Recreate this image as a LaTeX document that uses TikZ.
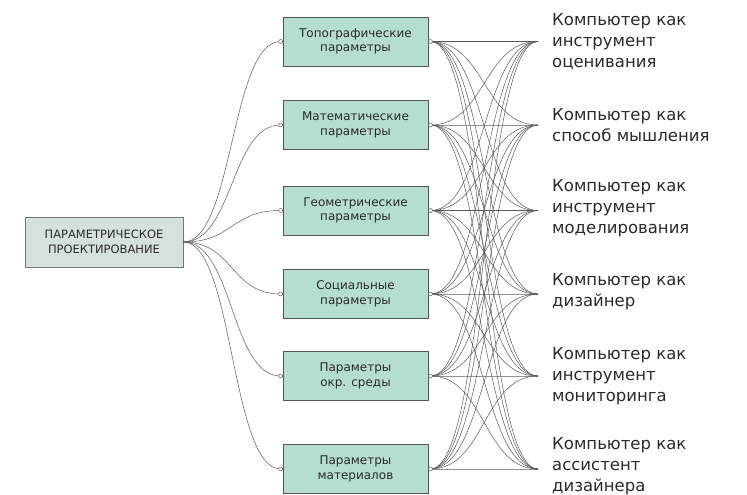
\documentclass[tikz,border=0pt]{standalone}
\usepackage{fontspec}
\setmainfont{DejaVu Sans}
\definecolor{midfill}{HTML}{B6DECF}
\definecolor{leftfill}{HTML}{D6E0DD}
\definecolor{edgegray}{HTML}{555555}
\definecolor{linegray}{HTML}{5A5A5A}
\definecolor{txt}{HTML}{2A2A2A}
\tikzset{
  midbox/.style={draw=edgegray, line width=0.8pt, fill=midfill, minimum width=145pt, minimum height=49pt, align=center, text=txt, font=\fontsize{12}{14.5}\selectfont, inner sep=0pt},
  leftbox/.style={draw=edgegray!80, line width=0.8pt, fill=leftfill, minimum width=158pt, minimum height=50pt, align=center, text=txt, font=\fontsize{11.5}{14.5}\selectfont, inner sep=0pt},
  outtext/.style={anchor=west, align=left, text=txt, font=\fontsize{16.5}{21}\selectfont, inner sep=0pt},
  conn/.style={draw=linegray, line width=0.5pt},
  endcirc/.style={draw=linegray, fill=white, line width=0.5pt}
}
\begin{document}
\begin{tikzpicture}[x=1pt,y=-1pt]
\useasboundingbox (0,0) rectangle (747,495);
\node[leftbox] (L) at (104,242) {ПАРАМЕТРИЧЕСКОЕ\\ПРОЕКТИРОВАНИЕ};
\node[midbox] (m1) at (355.5,41.5) {Топографические\\параметры};
\node[midbox] (m2) at (355.5,125) {Математические\\параметры};
\node[midbox] (m3) at (355.5,210.5) {Геометрические\\параметры};
\node[midbox] (m4) at (355.5,294) {Социальные\\параметры};
\node[midbox] (m5) at (355.5,376) {Параметры\\окр. среды};
\node[midbox] (m6) at (355.5,469) {Параметры\\материалов};
\coordinate (t1) at (538,41.5);
\coordinate (t2) at (538,125);
\coordinate (t3) at (538,210.5);
\coordinate (t4) at (538,294);
\coordinate (t5) at (538,376);
\coordinate (t6) at (538,469);
\node[outtext] (o1) at (552,41.5) {Компьютер как\\инструмент\\оценивания};
\node[outtext] (o2) at (552,125) {Компьютер как\\способ мышления};
\node[outtext] (o3) at (552,208) {Компьютер как\\инструмент\\моделирования};
\node[outtext] (o4) at (552,292) {Компьютер как\\дизайнер};
\node[outtext] (o5) at (552,376) {Компьютер как\\инструмент\\мониторинга};
\node[outtext] (o6) at (552,466) {Компьютер как\\ассистент\\дизайнера};
\foreach \i in {1,...,6}{
  \draw[conn] (L.east) .. controls +(50,0) and +(-50,0) .. ([xshift=-2pt]m\i.west);
  \foreach \j in {1,...,6}{
    \draw[conn] ([xshift=2pt]m\i.east) .. controls +(55,0) and +(-55,0) .. (t\j);
  }
  \draw[endcirc] ([xshift=-2pt]m\i.west) circle (2pt);
  \draw[endcirc] ([xshift=2pt]m\i.east) circle (2pt);
}
\end{tikzpicture}
\end{document}
